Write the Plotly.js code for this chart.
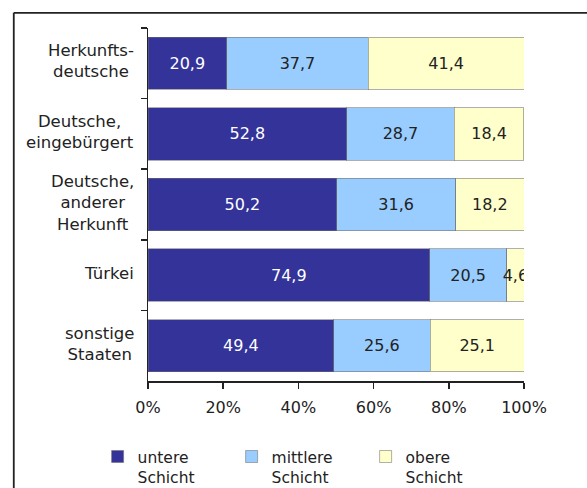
<!DOCTYPE html>
<html>
<head>
<meta charset="utf-8">
<script src="https://cdn.plot.ly/plotly-3.0.1.min.js"></script>
<style>
  html, body { margin: 0; padding: 0; background: #ffffff; }
  #chart { width: 587px; height: 488px; }
</style>
</head>
<body>
<div id="chart"></div>
<script>
// Social class shares (%) by origin group
const categories = [
  'Herkunfts-<br>deutsche',
  'Deutsche,<br>eingebürgert',
  'Deutsche,<br>anderer<br>Herkunft',
  'Türkei',
  'sonstige<br>Staaten'
];
const untere   = [20.9, 52.8, 50.2, 74.9, 49.4];
const mittlere = [37.7, 28.7, 31.6, 20.5, 25.6];
const obere    = [41.4, 18.4, 18.2, 4.6, 25.1];
const seriesNames = ['untere<br>Schicht', 'mittlere<br>Schicht', 'obere<br>Schicht'];
const xTicks = [0, 20, 40, 60, 80, 100];

const FONT = 'DejaVu Sans, Liberation Sans, Arial, sans-serif';
const TXT = '#222222';

function barTrace(values, name, fill, textColor) {
  return {
    type: 'bar',
    orientation: 'h',
    x: values,
    y: categories,
    name: name,
    marker: { color: fill, line: { color: 'rgba(110,110,110,0.55)', width: 1 } },
    texttemplate: '%{x:.1f}',
    textposition: 'inside',
    insidetextanchor: 'middle',
    textangle: 0,
    constraintext: 'none',
    textfont: { family: FONT, size: 16, color: textColor },
    hoverinfo: 'skip'
  };
}

const data = [
  barTrace(untere, seriesNames[0], '#333399', '#ffffff'),
  barTrace(mittlere, seriesNames[1], '#99ccff', TXT),
  barTrace(obere, seriesNames[2], '#ffffcc', TXT)
];

// Category labels, centred line by line, left of the y axis line
const labelAnnotations = categories.map(c => ({
  x: 0, xref: 'paper', y: c, yref: 'y',
  text: c, showarrow: false,
  xanchor: 'right', yanchor: 'middle', align: 'center',
  xshift: -12, yshift: 2,
  font: { family: FONT, size: 16.5, color: TXT }
}));

const layout = {
  width: 587,
  height: 488,
  margin: { l: 148, r: 63, t: 28, b: 107, autoexpand: false },
  paper_bgcolor: '#ffffff',
  plot_bgcolor: '#ffffff',
  barmode: 'stack',
  bargap: 0.26,
  separators: ',.',
  font: { family: FONT, size: 16, color: TXT },
  showlegend: true,
  legend: {
    orientation: 'h',
    x: -0.134, xanchor: 'left',
    y: -0.167, yanchor: 'top',
    traceorder: 'normal',
    valign: 'top',
    entrywidth: 89,
    entrywidthmode: 'pixels',
    font: { family: FONT, size: 15.5, color: TXT },
    bgcolor: 'rgba(0,0,0,0)'
  },
  xaxis: {
    range: [0, 100],
    tickvals: xTicks,
    ticktext: xTicks.map(v => v + '%'),
    ticks: 'outside',
    ticklen: 6,
    tickwidth: 1.5,
    tickcolor: TXT,
    ticklabelstandoff: 5,
    showline: true,
    linecolor: TXT,
    linewidth: 1.5,
    showgrid: false,
    zeroline: false,
    fixedrange: true,
    tickfont: { family: FONT, size: 16, color: TXT }
  },
  yaxis: {
    type: 'category',
    autorange: 'reversed',
    tickson: 'boundaries',
    ticks: 'outside',
    ticklen: 6,
    tickwidth: 1.5,
    tickcolor: TXT,
    showticklabels: false,
    showline: true,
    linecolor: TXT,
    linewidth: 1.5,
    showgrid: false,
    zeroline: false,
    fixedrange: true
  },
  annotations: labelAnnotations,
  shapes: [
    // outer chart frame: top and left edges, running off the page
    {
      type: 'line', xref: 'paper', yref: 'paper',
      x0: -0.357, x1: 2, y0: 1.043, y1: 1.043,
      line: { color: TXT, width: 1.8 }
    },
    {
      type: 'line', xref: 'paper', yref: 'paper',
      x0: -0.357, x1: -0.357, y0: 1.043, y1: -2,
      line: { color: TXT, width: 1.8 }
    }
  ]
};

Plotly.newPlot('chart', data, layout, { displayModeBar: false, staticPlot: true });
</script>
</body>
</html>
